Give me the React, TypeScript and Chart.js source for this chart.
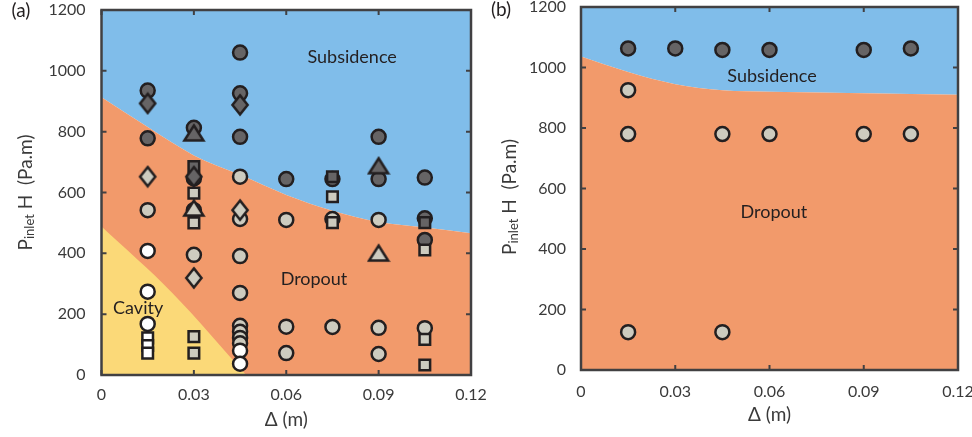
import React, { useEffect, useRef } from 'react';
import { Chart, registerables } from 'chart.js';
Chart.register(...registerables);

// ---------- axis ticks ----------
const xTickValues = [0, 0.03, 0.06, 0.09, 0.12];
const xTickLabels = ['0', '0.03', '0.06', '0.09', '0.12'];
const yTickValues = [0, 200, 400, 600, 800, 1000, 1200];
const yTickLabels = ['0', '200', '400', '600', '800', '1000', '1200'];

// ---------- panel (a) data: [delta (m), P_inlet H (Pa.m)] ----------
const aDarkCircles = [
  [0.015, 935], [0.015, 778], [0.03, 813], [0.03, 646], [0.045, 1060], [0.045, 926],
  [0.045, 783], [0.06, 644], [0.075, 644], [0.09, 783], [0.09, 644], [0.105, 649],
  [0.105, 515], [0.105, 444],
];
const aDarkDiamonds = [[0.015, 893], [0.03, 652], [0.045, 888]];
const aDarkTriangles = [[0.03, 796], [0.09, 688]];
const aDarkSquares = [[0.03, 685], [0.075, 652], [0.105, 501]];
const aLightCircles = [
  [0.015, 542], [0.03, 542], [0.03, 395], [0.045, 652], [0.045, 513], [0.045, 391],
  [0.045, 270], [0.045, 162], [0.045, 142], [0.045, 122], [0.045, 104], [0.06, 510],
  [0.06, 159], [0.06, 72], [0.075, 513], [0.075, 158], [0.09, 510], [0.09, 155],
  [0.09, 69], [0.105, 154],
];
const aLightDiamonds = [[0.015, 652], [0.03, 319], [0.045, 542]];
const aLightTriangles = [[0.03, 549], [0.09, 401]];
const aLightSquares = [
  [0.03, 598], [0.03, 500], [0.03, 126], [0.03, 72], [0.075, 586], [0.075, 501],
  [0.105, 411], [0.105, 117], [0.105, 33],
];
const aWhiteCircles = [[0.015, 408], [0.015, 274], [0.015, 168], [0.045, 80], [0.045, 37]];
const aWhiteSquares = [[0.015, 122], [0.015, 97], [0.015, 72]];

// regime boundaries (a)
const aSubsidenceBoundary = [
  [0, 913], [0.015, 815], [0.03, 722], [0.045, 658], [0.06, 592], [0.075, 540],
  [0.09, 503], [0.105, 485], [0.12, 466],
];
const aCavityBoundary = [[0, 488], [0.023, 270], [0.047, 0]];

// ---------- panel (b) data ----------
const bDarkCircles = [[0.015, 1063], [0.03, 1063], [0.045, 1058], [0.06, 1058], [0.09, 1058], [0.105, 1063]];
const bLightCircles = [
  [0.015, 925], [0.015, 780], [0.045, 780], [0.06, 780], [0.09, 780], [0.105, 780],
  [0.015, 125], [0.045, 125],
];
const bSubsidenceBoundary = [
  [0, 1036], [0.015, 985], [0.03, 945], [0.045, 925], [0.06, 920], [0.09, 915], [0.12, 910],
];

// ---------- styles ----------
const STROKE = '#231F20';
const DARK = '#666465';
const LIGHT = '#CDCBBF';
const WHITE = '#FFFFFF';
const BLUE = '#80BDEA';
const ORANGE = '#F29A6B';
const YELLOW = '#FBD978';
const AXIS = '#414042';
const TICKTEXT = '#3a3a3a';
const FONT = '"Lato", "Open Sans", "DejaVu Sans", sans-serif';

const toPts = (arr: number[][]) => arr.map(([x, y]) => ({ x, y }));

function makeMarker(shape: string, fill: string) {
  const c = document.createElement('canvas');
  const g = c.getContext('2d') as CanvasRenderingContext2D;
  if (shape === 'diamond') {
    c.width = 20; c.height = 24;
    g.beginPath();
    g.moveTo(10, 2.4); g.lineTo(17.6, 12); g.lineTo(10, 21.6); g.lineTo(2.4, 12);
  } else {
    c.width = 24; c.height = 20;
    g.beginPath();
    g.moveTo(12, 2.5); g.lineTo(21.5, 17.5); g.lineTo(2.5, 17.5);
  }
  g.closePath();
  g.fillStyle = fill; g.fill();
  g.lineWidth = 2.5; g.strokeStyle = STROKE; g.lineJoin = 'miter'; g.stroke();
  return c;
}

function markerDs(data: number[][], style: any, fill: string, radius: number) {
  return {
    type: 'scatter',
    data: toPts(data),
    pointStyle: style,
    pointRadius: radius,
    pointHoverRadius: radius,
    pointBackgroundColor: fill,
    pointBorderColor: STROKE,
    pointBorderWidth: 2.5,
    pointHoverBorderWidth: 2.5,
    showLine: false,
  };
}

function regionDs(data: number[][], color: string, fill: string) {
  return {
    type: 'line',
    data: toPts(data),
    borderWidth: 0,
    borderColor: 'rgba(0,0,0,0)',
    pointRadius: 0,
    pointHoverRadius: 0,
    backgroundColor: color,
    fill,
    cubicInterpolationMode: 'monotone',
  };
}

const zeroPad = (s: any) => {
  s.paddingLeft = 0; s.paddingRight = 0; s.paddingTop = 0; s.paddingBottom = 0;
};

const decorPlugin = {
  id: 'decor',
  afterDatasetsDraw(chart: any, _args: any, opts: any) {
    const { ctx, chartArea: a, scales } = chart;
    const xs = scales.x, ys = scales.y;
    ctx.save();
    // region labels
    ctx.fillStyle = STROKE;
    ctx.textAlign = 'center';
    ctx.textBaseline = 'middle';
    ctx.font = `18px ${FONT}`;
    for (const lab of opts.regionLabels) {
      ctx.fillText(lab.text, xs.getPixelForValue(lab.x), ys.getPixelForValue(lab.y));
    }
    // frame
    ctx.strokeStyle = AXIS;
    ctx.lineWidth = 2.5;
    ctx.strokeRect(a.left, a.top, a.right - a.left, a.bottom - a.top);
    // inward ticks
    ctx.lineWidth = 2;
    ctx.beginPath();
    for (const v of xTickValues) {
      const px = xs.getPixelForValue(v);
      ctx.moveTo(px, a.bottom); ctx.lineTo(px, a.bottom - 5);
      ctx.moveTo(px, a.top); ctx.lineTo(px, a.top + 5);
    }
    for (const v of yTickValues) {
      const py = ys.getPixelForValue(v);
      ctx.moveTo(a.left, py); ctx.lineTo(a.left + 5, py);
      ctx.moveTo(a.right, py); ctx.lineTo(a.right - 5, py);
    }
    ctx.stroke();
    // x title
    ctx.fillStyle = TICKTEXT;
    ctx.font = `19px ${FONT}`;
    ctx.fillText('\u0394 (m)', (a.left + a.right) / 2, a.bottom + opts.xTitleOffset);
    // y title with subscript
    ctx.save();
    ctx.translate(opts.yTitleX, opts.yTitleY);
    ctx.rotate(-Math.PI / 2);
    ctx.textAlign = 'left';
    ctx.textBaseline = 'alphabetic';
    const big = `19px ${FONT}`;
    const small = `13px ${FONT}`;
    ctx.font = big; const w1 = ctx.measureText('P').width;
    ctx.font = small; const w2 = ctx.measureText('inlet').width;
    ctx.font = big; const w3 = ctx.measureText(' H  (Pa.m)').width;
    let x0 = -(w1 + w2 + w3) / 2;
    const base = 7;
    ctx.font = big; ctx.fillText('P', x0, base); x0 += w1;
    ctx.font = small; ctx.fillText('inlet', x0, base + 2); x0 += w2;
    ctx.font = big; ctx.fillText(' H  (Pa.m)', x0, base);
    ctx.restore();
    // panel label
    ctx.fillStyle = STROKE;
    ctx.font = `19px ${FONT}`;
    ctx.textAlign = 'center';
    ctx.textBaseline = 'middle';
    ctx.fillText(opts.panelLabel, opts.panelX, opts.panelY);
    ctx.restore();
  },
};

function buildConfig(p: any) {
  return {
    type: 'scatter',
    data: { datasets: p.datasets },
    plugins: [decorPlugin],
    options: {
      responsive: false,
      animation: false,
      events: [],
      layout: { autoPadding: false, padding: p.padding },
      scales: {
        x: {
          type: 'linear',
          min: 0,
          max: 0.12,
          afterBuildTicks: (s: any) => { s.ticks = xTickValues.map((v) => ({ value: v })); },
          afterFit: (s: any) => { s.height = p.xAxisH; zeroPad(s); },
          grid: { display: false, drawTicks: false },
          border: { display: false },
          ticks: {
            padding: p.xPad,
            autoSkip: false,
            maxRotation: 0,
            color: TICKTEXT,
            font: { family: FONT, size: 16 },
            callback: (_v: any, i: number) => xTickLabels[i],
          },
        },
        y: {
          type: 'linear',
          min: 0,
          max: 1200,
          afterBuildTicks: (s: any) => { s.ticks = yTickValues.map((v) => ({ value: v })); },
          afterFit: (s: any) => { s.width = p.yAxisW; zeroPad(s); },
          grid: { display: false, drawTicks: false },
          border: { display: false },
          ticks: {
            padding: p.yPad,
            autoSkip: false,
            color: TICKTEXT,
            font: { family: FONT, size: 16 },
            callback: (_v: any, i: number) => yTickLabels[i],
          },
        },
      },
      plugins: {
        legend: { display: false },
        tooltip: { enabled: false },
        decor: p.decor,
      },
    },
  };
}

function Panel({ which, left, width }: { which: string; left: number; width: number }) {
  const ref = useRef<HTMLCanvasElement | null>(null);
  useEffect(() => {
    if (!ref.current) return;
    const dDark = makeMarker('diamond', DARK);
    const dLight = makeMarker('diamond', LIGHT);
    const tDark = makeMarker('triangle', DARK);
    const tLight = makeMarker('triangle', LIGHT);
    let p: any;
    if (which === 'a') {
      p = {
        padding: { left: 8, right: 21, top: 10, bottom: 0 },
        yAxisW: 93.5, xAxisH: 62, xPad: 10, yPad: 16,
        datasets: [
          markerDs(aLightDiamonds, dLight, LIGHT, 9),
          markerDs(aDarkDiamonds, dDark, DARK, 9),
          markerDs(aLightTriangles, tLight, LIGHT, 9),
          markerDs(aDarkTriangles, tDark, DARK, 9),
          markerDs(aWhiteSquares, 'rect', WHITE, 7.5),
          markerDs(aLightSquares, 'rect', LIGHT, 7.5),
          markerDs(aDarkSquares, 'rect', DARK, 7.5),
          markerDs(aWhiteCircles, 'circle', WHITE, 7),
          markerDs(aLightCircles, 'circle', LIGHT, 7),
          markerDs(aDarkCircles, 'circle', DARK, 7),
          regionDs(aCavityBoundary, YELLOW, 'start'),
          regionDs(aSubsidenceBoundary, ORANGE, 'start'),
          regionDs(aSubsidenceBoundary, BLUE, 'end'),
        ],
        decor: {
          regionLabels: [
            { text: 'Subsidence', x: 0.0814, y: 1045 },
            { text: 'Dropout', x: 0.069, y: 316 },
            { text: 'Cavity', x: 0.0119, y: 220 },
          ],
          xTitleOffset: 45,
          yTitleX: 25, yTitleY: 192.5,
          panelLabel: '(a)', panelX: 21, panelY: 11,
        },
      };
    } else {
      p = {
        padding: { left: 4, right: 14, top: 7, bottom: 0 },
        yAxisW: 91, xAxisH: 67, xPad: 12, yPad: 15,
        datasets: [
          markerDs(bLightCircles, 'circle', LIGHT, 7),
          markerDs(bDarkCircles, 'circle', DARK, 7),
          regionDs(bSubsidenceBoundary, ORANGE, 'start'),
          regionDs(bSubsidenceBoundary, BLUE, 'end'),
        ],
        decor: {
          regionLabels: [
            { text: 'Subsidence', x: 0.0608, y: 972 },
            { text: 'Dropout', x: 0.0614, y: 522 },
          ],
          xTitleOffset: 45,
          yTitleX: 23, yTitleY: 197,
          panelLabel: '(b)', panelX: 15, panelY: 10,
        },
      };
    }
    const chart = new Chart(ref.current, buildConfig(p) as any);
    return () => chart.destroy();
  }, [which]);
  return (
    <canvas
      ref={ref}
      width={width}
      height={437}
      style={{ position: 'absolute', left, top: 0, width, height: 437 }}
    />
  );
}

export default function App() {
  return (
    <div
      style={{
        position: 'absolute', left: 0, top: 0, width: 972, height: 437,
        overflow: 'hidden', background: '#ffffff',
      }}
    >
      <Panel which="a" left={0} width={492} />
      <Panel which="b" left={486} width={486} />
    </div>
  );
}
